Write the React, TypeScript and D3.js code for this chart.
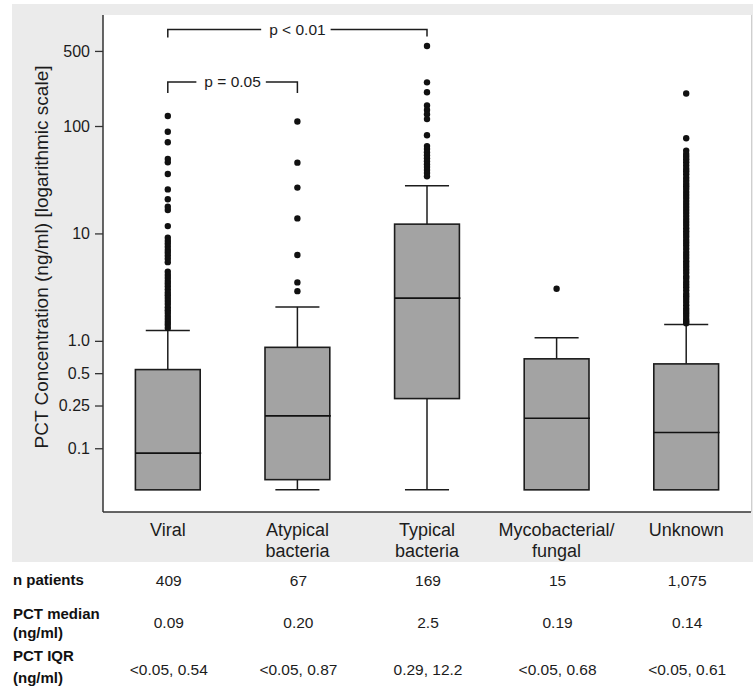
import React, { useEffect, useRef } from "react";
import * as d3 from "d3";

// ---------- DATA ----------
const categories = ["Viral", "Atypical\nbacteria", "Typical\nbacteria", "Mycobacterial/\nfungal", "Unknown"];
const lowerWhisker = [0.041, 0.041, 0.041, 0.041, 0.041];
const q1 = [0.041, 0.051, 0.29, 0.041, 0.041];
const medians = [0.09, 0.2, 2.5, 0.19, 0.14];
const q3 = [0.54, 0.87, 12.2, 0.68, 0.61];
const upperWhisker = [1.25, 2.07, 27.8, 1.07, 1.42];

const outliersViral = [124, 88.5, 70.5, 49.3, 45.9, 35.7, 25.7, 20.8, 17.7, 16.5, 11.7,
  9.1, 8.5, 8.0, 7.5, 7.0, 6.6, 6.2, 5.8, 5.4,
  4.4, 4.1, 3.85, 3.6, 3.4, 3.2, 3.0, 2.8, 2.65, 2.5, 2.35, 2.2, 2.05, 1.93, 1.82, 1.7, 1.6, 1.5, 1.41, 1.32];
const outliersAtypical = [110, 45.6, 26.7, 13.8, 6.3, 3.5, 2.9];
const outliersTypical = [556, 255, 206, 155, 141, 128.5, 116, 81.9,
  65, 61, 57, 53.5, 50, 47, 44, 41.5, 39, 36.5, 34];
const outliersMyco = [3.05];
const outliersUnknown = [201, 76.8,
  59, 55, 52, 49, 46, 43, 40, 38, 35.5, 33, 31, 29, 27.5, 26, 24.3, 22.8, 21.4, 20, 18.8, 17.6,
  16.5, 15.5, 14.5, 13.6, 12.8, 12, 11.2, 10.5, 9.9, 9.3, 8.7, 8.2, 7.7, 7.2, 6.7, 6.3, 5.9,
  5.5, 5.2, 4.9, 4.6, 4.3, 4.0, 3.8, 3.55, 3.35, 3.15, 2.95, 2.75, 2.6, 2.45, 2.3, 2.15, 2.0,
  1.9, 1.8, 1.7, 1.6, 1.52, 1.46];
const outliers = [outliersViral, outliersAtypical, outliersTypical, outliersMyco, outliersUnknown];

const yTickValues = [0.1, 0.25, 0.5, 1.0, 10, 100, 500];
const yTickLabels = ["0.1", "0.25", "0.5", "1.0", "10", "100", "500"];
const yTitle = "PCT Concentration (ng/ml) [logarithmic scale]";

const bracketFrom = [0, 0];
const bracketTo = [2, 1];
const bracketLabels = ["p < 0.01", "p = 0.05"];

const rowLabels = [["n patients"], ["PCT median", "(ng/ml)"], ["PCT IQR", "(ng/ml)"]];
const nPatients = ["409", "67", "169", "15", "1,075"];
const medianText = ["0.09", "0.20", "2.5", "0.19", "0.14"];
const iqrText = ["<0.05, 0.54", "<0.05, 0.87", "0.29, 12.2", "<0.05, 0.68", "<0.05, 0.61"];
const tableRows = [nPatients, medianText, iqrText];

// ---------- LAYOUT ----------
const W = 753, H = 689;
const plot = { left: 103, right: 751, top: 15, bottom: 512 };
const FONT = "Arial, 'Liberation Sans', Helvetica, sans-serif";
const INK = "#1c1c1c";

export default function App() {
  const ref = useRef<SVGGElement | null>(null);

  useEffect(() => {
    const svg = d3.select(ref.current);
    svg.selectAll("*").remove();

    const x = d3.scaleBand<number>().domain(d3.range(categories.length)).range([plot.left, plot.right]).padding(0);
    const y = d3.scaleLog().domain([0.0255, 1080]).range([plot.bottom, plot.top]);
    const cx = (i: number) => (x(i) as number) + x.bandwidth() / 2;
    const boxW = x.bandwidth() * 0.5;
    const capW = x.bandwidth() * 0.34;

    // y axis
    const yAxis = d3.axisLeft(y).tickValues(yTickValues).tickSize(8).tickPadding(5)
      .tickFormat((_d, i) => yTickLabels[i]);
    const gy = svg.append("g").attr("transform", `translate(${plot.left},0)`).call(yAxis as any);
    gy.select(".domain").remove();
    gy.selectAll(".tick line").attr("stroke", "#333").attr("stroke-width", 1.3);
    gy.selectAll(".tick text").attr("font-family", FONT).attr("font-size", 16).attr("fill", INK);

    // axis lines
    svg.append("line").attr("x1", plot.left).attr("x2", plot.left).attr("y1", plot.top).attr("y2", plot.bottom)
      .attr("stroke", "#333").attr("stroke-width", 1.5);
    svg.append("line").attr("x1", plot.left).attr("x2", plot.right).attr("y1", plot.bottom).attr("y2", plot.bottom)
      .attr("stroke", "#333").attr("stroke-width", 1.5);

    // y title
    svg.append("text").attr("transform", `translate(48,257) rotate(-90)`).attr("text-anchor", "middle")
      .attr("font-family", FONT).attr("font-size", 19).attr("fill", INK).text(yTitle);

    // boxes
    categories.forEach((_c, i) => {
      const g = svg.append("g");
      const c = cx(i);
      g.append("line").attr("x1", c).attr("x2", c).attr("y1", y(q3[i])).attr("y2", y(upperWhisker[i]))
        .attr("stroke", INK).attr("stroke-width", 1.5);
      g.append("line").attr("x1", c - capW / 2).attr("x2", c + capW / 2).attr("y1", y(upperWhisker[i])).attr("y2", y(upperWhisker[i]))
        .attr("stroke", INK).attr("stroke-width", 1.5);
      if (lowerWhisker[i] < q1[i] * 0.97) {
        g.append("line").attr("x1", c).attr("x2", c).attr("y1", y(q1[i])).attr("y2", y(lowerWhisker[i]))
          .attr("stroke", INK).attr("stroke-width", 1.5);
        g.append("line").attr("x1", c - capW / 2).attr("x2", c + capW / 2).attr("y1", y(lowerWhisker[i])).attr("y2", y(lowerWhisker[i]))
          .attr("stroke", INK).attr("stroke-width", 1.5);
      }
      g.append("rect").attr("x", c - boxW / 2).attr("y", y(q3[i])).attr("width", boxW)
        .attr("height", y(q1[i]) - y(q3[i])).attr("fill", "#a3a3a3").attr("stroke", INK).attr("stroke-width", 1.6);
      g.append("line").attr("x1", c - boxW / 2).attr("x2", c + boxW / 2 + 1).attr("y1", y(medians[i])).attr("y2", y(medians[i]))
        .attr("stroke", "#111").attr("stroke-width", 1.6);
      g.selectAll("circle").data(outliers[i]).join("circle")
        .attr("cx", c).attr("cy", (d) => y(d)).attr("r", 3.2).attr("fill", "#111");
    });

    // significance brackets
    const bracketY = [29.5, 82];
    const dropL = [8, 11];
    const dropR = [7, 11];
    bracketLabels.forEach((lab, k) => {
      const xa = cx(bracketFrom[k]);
      const xb = cx(bracketTo[k]);
      const yy = bracketY[k];
      const mid = (xa + xb) / 2;
      const t = svg.append("text").attr("x", mid).attr("y", yy).attr("dy", "0.35em").attr("text-anchor", "middle")
        .attr("font-family", FONT).attr("font-size", 15.5).attr("fill", INK).text(lab);
      const tw = (t.node() as SVGTextElement).getComputedTextLength();
      const gapL = mid - tw / 2 - 8;
      const gapR = mid + tw / 2 + 5;
      const path = `M${xa},${yy + dropL[k]}V${yy}H${gapL}M${gapR},${yy}H${xb}V${yy + dropR[k]}`;
      svg.append("path").attr("d", path).attr("fill", "none").attr("stroke", INK).attr("stroke-width", 1.5);
    });

    // category labels
    categories.forEach((c, i) => {
      const lines = c.split("\n");
      const t = svg.append("text").attr("text-anchor", "middle").attr("font-family", FONT)
        .attr("font-size", 18).attr("fill", INK);
      lines.forEach((ln, j) => {
        t.append("tspan").attr("x", cx(i)).attr("y", 536 + j * 21).text(ln);
      });
    });

    // table
    const labelBase = [[585], [619, 638], [661, 683]];
    const valueBase = [586, 628, 675];
    rowLabels.forEach((lines, r) => {
      lines.forEach((ln, j) => {
        svg.append("text").attr("x", 13).attr("y", labelBase[r][j]).attr("font-family", FONT)
          .attr("font-weight", "bold").attr("font-size", 15).attr("fill", "#111").text(ln);
      });
      tableRows[r].forEach((v, i) => {
        svg.append("text").attr("x", cx(i) + 1).attr("y", valueBase[r]).attr("text-anchor", "middle")
          .attr("font-family", FONT).attr("font-size", 15.5).attr("fill", INK).text(v);
      });
    });
  }, []);

  return (
    <svg width={W} height={H} style={{ position: "absolute", left: 0, top: 0, background: "#ffffff" }}>
      <rect x={12} y={4} width={W - 12} height={558} fill="#ebebeb" />
      <rect x={plot.left} y={plot.top} width={plot.right - plot.left} height={plot.bottom - plot.top} fill="#ffffff" />
      <line x1={plot.right + 0.5} x2={plot.right + 0.5} y1={plot.top} y2={plot.bottom} stroke="#cfcfcf" strokeWidth={1} />
      <g ref={ref} />
    </svg>
  );
}
